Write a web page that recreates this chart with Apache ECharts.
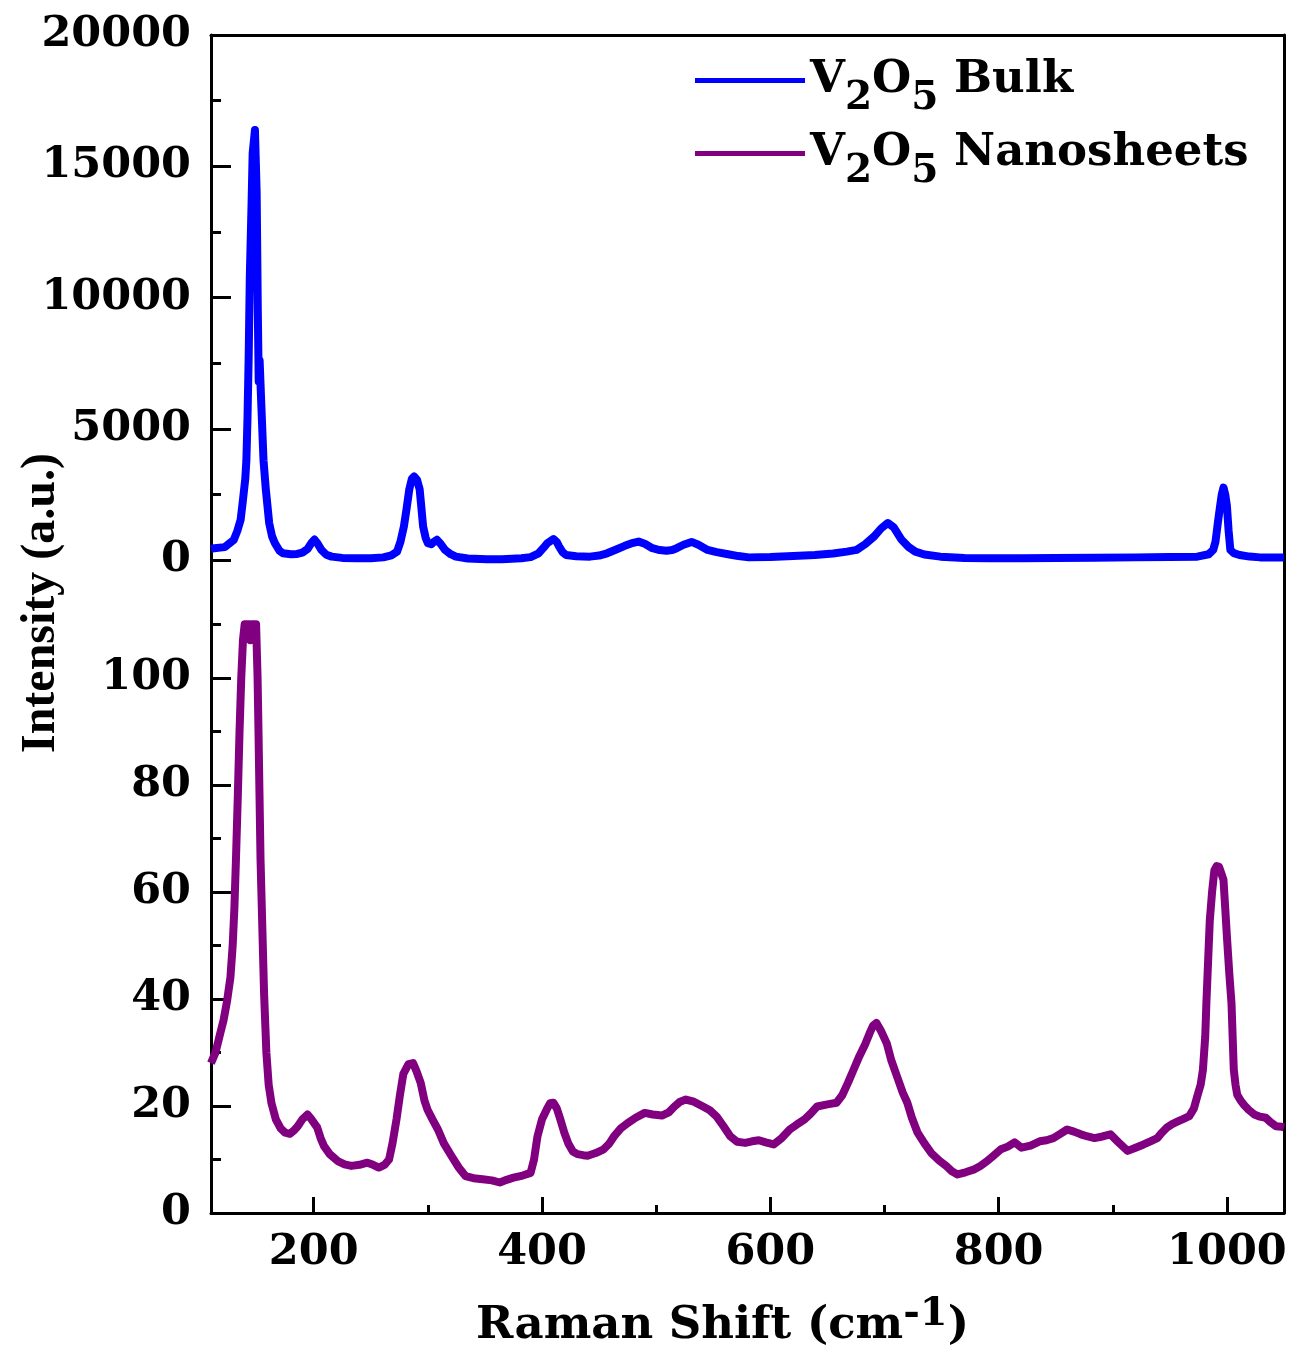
<!DOCTYPE html>
<html>
<head>
<meta charset="utf-8">
<script src="https://cdn.jsdelivr.net/npm/echarts@6/dist/echarts.min.js"></script>
<style>
    html, body { margin: 0; padding: 0; background: #fff; }
    #chart { width: 1290px; height: 1354px; }
</style>
</head>
<body>
<div id="chart"></div>
<script>
    // V2O5 bulk spectrum (top panel)
    var bulkShift = [110, 113, 122, 130, 133, 136, 138, 140, 141, 142, 143, 144, 145.5, 146.5, 148.5, 150, 151, 151.8, 152.6, 154,
        156, 158, 161, 163.5, 166, 170, 173, 180, 185.5, 190, 194.6, 198, 200.6, 203, 206.7, 211, 215.7, 225, 237, 250,
        261, 268, 273, 276, 279, 281.5, 283.7, 286, 288, 290.5, 292.8, 294.5, 295.8, 298, 300, 303, 305, 308, 311, 315,
        320, 324.5, 335, 351.7, 365, 382, 390, 397, 401, 404.6, 410, 413, 415, 418, 421, 430, 442, 450, 457, 465,
        472.5, 478, 484.6, 490, 496.7, 503, 509, 514, 518, 524, 531, 537, 545, 553, 563, 572, 581, 600, 620, 639,
        655, 667, 675.6, 683, 691, 697, 703, 708, 715, 721, 727, 735, 749, 770, 791, 820, 850, 883, 920, 950,
        974, 984, 988, 990, 992, 994, 995.5, 997, 998.5, 1000, 1001.5, 1003, 1006, 1011, 1020, 1029, 1040, 1050];
    var bulkIntensity = [420, 450, 490, 770, 1100, 1540, 2290, 3080, 3800, 5450, 7730, 10800, 13500, 15500, 16380, 14000, 9500, 6800, 7600, 6000,
        3800, 2700, 1400, 900, 640, 350, 256, 220, 230, 280, 420, 650, 780, 650, 385, 200, 128, 80, 64, 70,
        100, 180, 320, 700, 1280, 2000, 2690, 3100, 3180, 3050, 2690, 1900, 1280, 850, 640, 600, 680, 770, 620, 385,
        220, 128, 60, 26, 30, 64, 110, 256, 450, 640, 800, 680, 510, 300, 190, 140, 128, 170, 256, 400,
        540, 630, 700, 620, 450, 380, 350, 380, 450, 580, 690, 580, 385, 300, 220, 150, 100, 110, 150, 190,
        250, 320, 385, 600, 900, 1200, 1410, 1250, 770, 500, 320, 210, 128, 80, 64, 70, 80, 90, 100, 110,
        128, 220, 385, 700, 1400, 2050, 2500, 2760, 2500, 2050, 1100, 385, 260, 190, 130, 100, 100, 100];

    // V2O5 nanosheets spectrum (bottom panel)
    var nanoShift = [110, 114, 118, 121, 124, 127, 129, 130.5, 132, 133.5, 135, 136.5, 138, 139.5, 141.5, 143.5, 144.5, 145.5, 147.5, 149.5,
        150.8, 151.6, 152.5, 153.4, 155, 156.5, 158.5, 160.5, 163, 166.8, 171, 175, 179, 183, 186, 190, 194.6, 198, 203, 206,
        209, 214, 221, 227, 233, 240, 247, 252, 257, 262, 266, 269, 272.5, 275.5, 278.5, 283, 287, 290, 293.7, 297,
        299.7, 304, 308.8, 314, 320.8, 327, 332.9, 340, 348, 356, 363, 369, 375, 383, 390, 393, 396, 400, 404, 407,
        410, 413, 416, 419.5, 423, 427, 431, 436, 440, 447, 454, 459, 463, 469, 475, 482, 490, 497, 505, 511,
        516, 521, 526, 533, 541, 547, 553, 559, 565, 571, 578, 584, 590, 596, 603, 610, 617, 623, 630, 635,
        641, 650, 658, 663, 668, 673, 678, 683, 687, 690, 693, 697, 702, 706, 711, 716, 720, 724, 729, 735,
        741, 748, 754, 759, 764, 771, 778, 784, 790, 796, 802, 808, 814, 820, 828, 836, 842, 848, 854, 860,
        866, 872, 878, 884, 891, 898, 905, 913, 920, 927, 933, 939, 943, 947, 952, 957, 962, 967, 971, 974,
        977, 979, 981, 982, 983.5, 985, 987, 989, 991, 993, 995, 997, 998.5, 1000, 1002, 1004, 1005, 1006, 1007.5, 1009,
        1012, 1015, 1019, 1024, 1029, 1034, 1038, 1043, 1048, 1050];
    var nanoIntensity = [28, 30, 33.5, 36, 39.5, 44, 50, 57, 67, 78, 90, 100, 107, 110, 110, 110, 107, 110, 110, 110,
        100, 90, 78, 66, 53, 41, 30, 24, 20.5, 17.5, 15.8, 15, 14.8, 15.5, 16.2, 17.5, 18.4, 17.5, 16, 14,
        12.5, 11, 9.7, 9.1, 8.8, 9, 9.4, 9, 8.5, 9, 10, 13, 17.5, 22, 26, 27.8, 28, 26.5, 24.3, 21,
        19.3, 17.5, 15.6, 13, 10.6, 8.5, 6.9, 6.5, 6.3, 6.1, 5.7, 6.2, 6.6, 7, 7.5, 10, 14.3, 17.5, 19.3, 20.5,
        20.6, 19.5, 17.5, 15, 13, 11.5, 11, 10.8, 10.7, 11.2, 11.9, 13, 14.3, 15.8, 16.8, 17.8, 18.7, 18.4, 18.2, 18.8,
        19.9, 20.8, 21.2, 20.8, 19.9, 19.2, 18, 16.2, 14.3, 13.3, 13.1, 13.4, 13.6, 13.2, 12.8, 14, 15.6, 16.5, 17.5, 18.5,
        19.9, 20.3, 20.6, 22, 24.3, 26.8, 29.3, 31.5, 33.6, 35, 35.5, 34, 31.7, 28.5, 25.5, 22.5, 20.6, 17.8, 15, 13,
        11.2, 9.8, 8.8, 7.8, 7.2, 7.6, 8.1, 8.8, 9.7, 10.8, 11.9, 12.4, 13.2, 12.2, 12.6, 13.4, 13.6, 14, 14.8, 15.6,
        15.2, 14.7, 14.3, 14, 14.3, 14.7, 13.2, 11.6, 12.2, 12.8, 13.4, 14, 15, 15.9, 16.6, 17.1, 17.6, 18.1, 19.5, 21.8,
        24, 26.8, 33, 39.2, 47, 54.7, 60, 64, 64.8, 64.7, 63.5, 62.2, 57, 51.6, 45, 39.2, 33, 26.8, 24, 22.1,
        21, 20.2, 19.3, 18.4, 18, 17.8, 17, 16.2, 16.1, 16];

    // tick values
    var shiftTicks = [200, 400, 600, 800, 1000];
    var shiftMinorTicks = [300, 500, 700, 900];
    var bulkTicks = [0, 5000, 10000, 15000, 20000];
    var bulkMinorTicks = [2500, 7500, 12500, 17500];
    var nanoTicks = [0, 20, 40, 60, 80, 100];
    var nanoMinorTicks = [10, 30, 50, 70, 90, 110];

    var SERIF = "'DejaVu Serif', serif";
    var TIMES = "'Liberation Serif', 'Times New Roman', serif";
    var BLACK = '#000';

    function pairs(xs, ys) {
        var out = [];
        for (var i = 0; i < xs.length; i++) {
            out.push([xs[i], ys[i]]);
        }
        return out;
    }

    // axis that only draws a frame edge
    function frameAxis(gridIndex, position) {
        return {
            gridIndex: gridIndex, type: 'value', position: position,
            axisLine: {show: true, onZero: false, lineStyle: {color: BLACK, width: 3}},
            axisTick: {show: false}, axisLabel: {show: false}, splitLine: {show: false}
        };
    }

    // axis that only draws ticks at given values
    function tickAxis(gridIndex, position, values, len) {
        return {
            gridIndex: gridIndex, type: 'value', position: position,
            axisLine: {show: false, onZero: false},
            axisTick: {show: true, inside: true, length: len, customValues: values, lineStyle: {color: BLACK, width: 3}},
            axisLabel: {show: false}, splitLine: {show: false}
        };
    }

    var tickFont = {color: BLACK, fontFamily: SERIF, fontWeight: 'bold', fontSize: 43};

    var legendRich = {
        m: {fontFamily: SERIF, fontWeight: 'bold', fontSize: 45, color: BLACK, lineHeight: 50, verticalAlign: 'middle'},
        s: {fontFamily: SERIF, fontWeight: 'bold', fontSize: 39, color: BLACK, lineHeight: 50, padding: [36, 0, 0, 0]}
    };

    function chemName(name) {
        var rest = name.replace('V2O5', '');
        return '{m|V}{s|2}{m|O}{s|5}{m|' + rest + '}';
    }

    function makeLegend(name, top) {
        return {
            data: [name], left: 695, top: top, padding: 0,
            itemWidth: 110, itemHeight: 5, icon: 'rect', selectedMode: false,
            formatter: chemName,
            textStyle: {rich: legendRich}
        };
    }

    var chart = echarts.init(document.getElementById('chart'));

    var xAxes = [];
    var yAxes = [];

    // top panel
    xAxes.push({
        gridIndex: 0, type: 'value', min: 110, max: 1050, position: 'top',
        axisLine: {show: true, onZero: false, lineStyle: {color: BLACK, width: 3}},
        axisTick: {show: false}, axisLabel: {show: false}, splitLine: {show: false}
    });
    yAxes.push({
        gridIndex: 0, type: 'value', min: 0, max: 20000, position: 'left',
        axisLine: {show: true, onZero: false, lineStyle: {color: BLACK, width: 3}},
        axisTick: {show: true, inside: true, length: 20, customValues: bulkTicks, lineStyle: {color: BLACK, width: 3}},
        axisLabel: {show: true, margin: 20, customValues: bulkTicks, formatter: function (v) { return String(v); },
            color: tickFont.color, fontFamily: tickFont.fontFamily, fontWeight: tickFont.fontWeight, fontSize: tickFont.fontSize},
        splitLine: {show: false}
    });
    yAxes.push(Object.assign(tickAxis(0, 'left', bulkMinorTicks, 10), {min: 0, max: 20000}));
    yAxes.push(Object.assign(frameAxis(0, 'right'), {min: 0, max: 20000}));

    // bottom panel
    xAxes.push({
        gridIndex: 1, type: 'value', min: 110, max: 1050, position: 'bottom',
        axisLine: {show: true, onZero: false, lineStyle: {color: BLACK, width: 3}},
        axisTick: {show: true, inside: true, length: 16, customValues: shiftTicks, lineStyle: {color: BLACK, width: 3}},
        axisLabel: {show: true, margin: 18, customValues: shiftTicks, formatter: function (v) { return String(v); },
            color: tickFont.color, fontFamily: tickFont.fontFamily, fontWeight: tickFont.fontWeight, fontSize: tickFont.fontSize},
        splitLine: {show: false},
        name: '{t|Raman Shift (cm}{sup|-1}{t|)}',
        nameLocation: 'middle', nameGap: 86,
        nameTextStyle: {
            padding: [0, 50, 0, 0],
            rich: {
                t: {fontFamily: SERIF, fontWeight: 'bold', fontSize: 45, color: BLACK, lineHeight: 50, verticalAlign: 'bottom'},
                sup: {fontFamily: SERIF, fontWeight: 'bold', fontSize: 40, color: BLACK, lineHeight: 50, padding: [0, 0, 18, 0]}
            }
        }
    });
    xAxes.push(Object.assign(tickAxis(1, 'bottom', shiftMinorTicks, 8), {min: 110, max: 1050}));

    yAxes.push({
        gridIndex: 1, type: 'value', min: 0, max: 122, position: 'left',
        axisLine: {show: true, onZero: false, lineStyle: {color: BLACK, width: 3}},
        axisTick: {show: true, inside: true, length: 20, customValues: nanoTicks, lineStyle: {color: BLACK, width: 3}},
        axisLabel: {show: true, margin: 20, customValues: nanoTicks, formatter: function (v) { return String(v); },
            color: tickFont.color, fontFamily: tickFont.fontFamily, fontWeight: tickFont.fontWeight, fontSize: tickFont.fontSize},
        splitLine: {show: false}
    });
    yAxes.push(Object.assign(tickAxis(1, 'left', nanoMinorTicks, 10), {min: 0, max: 122}));
    yAxes.push(Object.assign(frameAxis(1, 'right'), {min: 0, max: 122}));

    var option = {
        backgroundColor: '#fff',
        animation: false,
        grid: [
            {left: 211, top: 35, width: 1073, height: 525},
            {left: 211, top: 560, width: 1073, height: 657}
        ],
        xAxis: xAxes,
        yAxis: yAxes,
        legend: [
            makeLegend('V2O5 Bulk', 43),
            makeLegend('V2O5 Nanosheets', 116)
        ],
        graphic: [{
            type: 'text', x: 42, y: 603, rotation: Math.PI / 2,
            style: {
                text: 'Intensity (a.u.)', fill: BLACK,
                font: 'bold 48px ' + TIMES,
                align: 'center', verticalAlign: 'middle'
            }
        }],
        series: [
            {
                name: 'V2O5 Bulk', type: 'line', xAxisIndex: 0, yAxisIndex: 0,
                data: pairs(bulkShift, bulkIntensity),
                symbol: 'none', clip: false,
                color: '#0000ff',
                lineStyle: {color: '#0000ff', width: 8, join: 'round'}
            },
            {
                name: 'V2O5 Nanosheets', type: 'line', xAxisIndex: 1, yAxisIndex: 3,
                data: pairs(nanoShift, nanoIntensity),
                symbol: 'none', clip: false,
                color: '#800080',
                lineStyle: {color: '#800080', width: 8, join: 'round'}
            }
        ]
    };

    chart.setOption(option);
</script>
</body>
</html>
